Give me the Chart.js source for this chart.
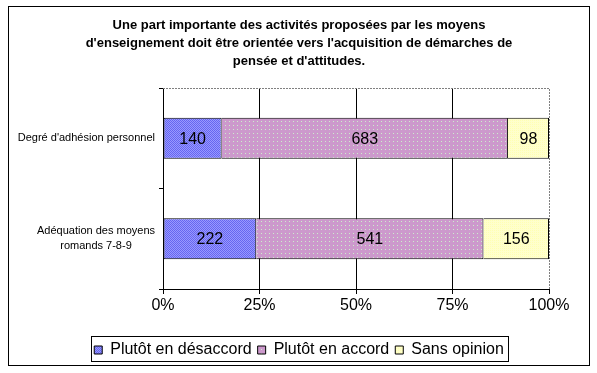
<!DOCTYPE html>
<html><head><meta charset="utf-8">
<script src="https://cdn.jsdelivr.net/npm/chart.js@4"></script>
<style>html,body{margin:0;padding:0;background:#fff}#wrap{width:597px;height:373px}</style>
</head><body><div id="wrap"><canvas id="c" width="597" height="373"></canvas></div>
<script>
const titleLines = [
  'Une part importante des activités proposées par les moyens',
  "d'enseignement doit être orientée vers l'acquisition de démarches de",
  "pensée et d'attitudes."
];
const categories = [["Degré d'adhésion personnel"], ['Adéquation des moyens', 'romands 7-8-9']];
const seriesNames = ['Plutôt en désaccord', 'Plutôt en accord', 'Sans opinion'];
const desaccord = [140, 222];
const accord = [683, 541];
const sansOpinion = [98, 156];
const xTicks = [0, 25, 50, 75, 100];

const FONT = '"Liberation Sans", Arial, sans-serif';
const counts = [desaccord, accord, sansOpinion];
const totals = categories.map((_, i) => counts.reduce((s, a) => s + a[i], 0));
const pct = arr => arr.map((v, i) => v / totals[i] * 100);

function makePattern(w, h, bg, fg, dots) {
  const c = document.createElement('canvas');
  c.width = w; c.height = h;
  const g = c.getContext('2d');
  g.fillStyle = bg; g.fillRect(0, 0, w, h);
  g.fillStyle = fg;
  dots.forEach(d => g.fillRect(d[0], d[1], 1, 1));
  return document.getElementById('c').getContext('2d').createPattern(c, 'repeat');
}
const blueP = makePattern(2, 2, '#9999FF', '#6666F0', [[0, 0], [1, 1]]);
const purpleP = makePattern(4, 4, '#CC99CC', '#CCEECC', [[1, 1]]);
const yellowP = makePattern(2, 2, '#FFFFCC', '#FFFFB4', [[0, 0]]);
const fills = [blueP, purpleP, yellowP];

const datasets = counts.map((arr, k) => ({
  label: seriesNames[k],
  data: pct(arr),
  raw: arr,
  backgroundColor: fills[k],
  borderColor: '#000',
  borderWidth: 1,
  borderSkipped: k === 0 ? false : 'left',
  barPercentage: 0.41,
  categoryPercentage: 1.0
}));

const decor = {
  id: 'decor',
  beforeDatasetsDraw(chart) {
    const { ctx, chartArea: a } = chart;
    ctx.save();
    ctx.strokeStyle = '#808080';
    ctx.lineWidth = 1;
    ctx.setLineDash([2, 1]);
    ctx.beginPath();
    ctx.moveTo(a.left, Math.round(a.top) + 0.5);
    ctx.lineTo(Math.round(a.right) + 0.5, Math.round(a.top) + 0.5);
    ctx.lineTo(Math.round(a.right) + 0.5, a.bottom);
    ctx.stroke();
    ctx.restore();
  },
  afterDraw(chart) {
    const { ctx } = chart;
    ctx.save();
    // value labels
    ctx.fillStyle = '#000';
    ctx.font = '16px ' + FONT;
    ctx.textAlign = 'center';
    ctx.textBaseline = 'middle';
    chart.data.datasets.forEach((ds, di) => {
      chart.getDatasetMeta(di).data.forEach((el, i) => {
        const p = el.getCenterPoint();
        ctx.fillText(String(ds.raw[i]), p.x, p.y + 1);
      });
    });
    // category labels
    const ys = chart.scales.y;
    ctx.font = '11px ' + FONT;
    const rightEdge = ys.right - 8;
    categories.forEach((lines, i) => {
      const cy = ys.getPixelForValue(i);
      const maxW = Math.max(...lines.map(l => ctx.measureText(l).width));
      const cx = rightEdge - maxW / 2;
      const lh = 15;
      lines.forEach((l, j) => {
        ctx.fillText(l, cx, cy + (j - (lines.length - 1) / 2) * lh);
      });
    });
    // legend border
    const hb = chart.legend.legendHitBoxes;
    if (hb && hb.length) {
      const l = Math.min(...hb.map(b => b.left));
      const r = Math.max(...hb.map(b => b.left + b.width));
      const t = hb[0].top;
      ctx.strokeStyle = '#000';
      ctx.lineWidth = 1;
      ctx.setLineDash([]);
      ctx.strokeRect(Math.round(l) - 2.5, Math.round(t) - 5.5, Math.round(r - l) + 7, 25);
    }
    // outer border
    ctx.strokeStyle = '#000';
    ctx.lineWidth = 1;
    ctx.strokeRect(8.5, 6.5, 581, 359);
    ctx.restore();
  }
};

new Chart(document.getElementById('c'), {
  type: 'bar',
  data: { labels: categories.map(c => c.join(' ')), datasets },
  options: {
    indexAxis: 'y',
    responsive: false,
    animation: false,
    devicePixelRatio: 1,
    layout: { padding: { left: 8, right: 7, top: 6, bottom: 5 } },
    plugins: {
      title: {
        display: true,
        text: titleLines,
        color: '#000',
        font: { family: FONT, size: 13, weight: 'bold', lineHeight: 1.385 },
        padding: { top: 10, bottom: 18 }
      },
      legend: {
        position: 'bottom',
        labels: {
          color: '#000',
          font: { family: FONT, size: 16 },
          boxWidth: 8,
          boxHeight: 8,
          padding: 6
        }
      },
      tooltip: { enabled: false }
    },
    scales: {
      x: {
        stacked: true,
        min: 0,
        max: 100,
        afterBuildTicks: s => { s.ticks = xTicks.map(v => ({ value: v })); },
        ticks: { color: '#000', font: { family: FONT, size: 16 }, padding: 2, callback: v => v + '%', maxRotation: 0 },
        grid: {
          color: c => (c.tick && c.tick.value === 100) ? 'rgba(0,0,0,0)' : '#000',
          tickColor: '#000',
          tickLength: 5,
          lineWidth: 1
        },
        border: { display: true, color: '#000', width: 1 },
        afterFit: s => { s.height = 47; }
      },
      y: {
        stacked: true,
        ticks: { display: false },
        grid: { drawOnChartArea: false, drawTicks: true, tickLength: 4, tickColor: '#000', color: '#000', offset: true },
        border: { display: true, color: '#000', width: 1 },
        afterFit: s => { s.width = 155; }
      },
      yRight: {
        type: 'linear',
        axis: 'y',
        position: 'right',
        display: true,
        ticks: { display: false },
        grid: { display: false },
        border: { display: false },
        afterFit: s => { s.width = 41; }
      }
    }
  },
  plugins: [decor]
});
</script>
</body></html>
